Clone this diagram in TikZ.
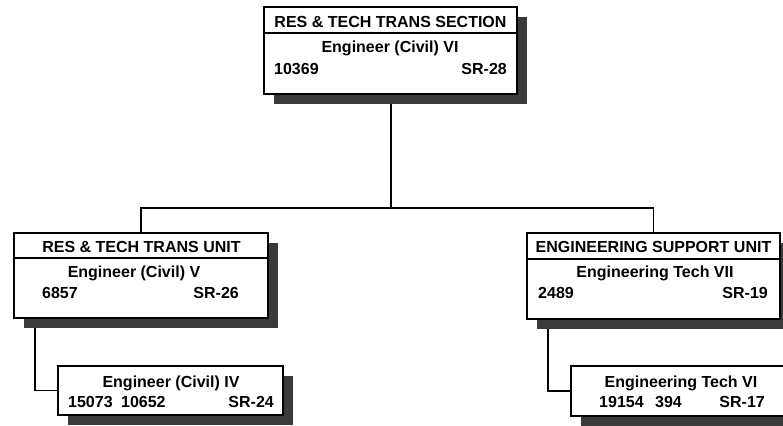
\documentclass[tikz,border=0pt]{standalone}
\usepackage{fontspec}
\setmainfont{Liberation Sans}
\usetikzlibrary{shadows,backgrounds}
\definecolor{shadowgray}{HTML}{3A3A3A}
\tikzset{
  orgbox/.style={draw=black, fill=white, line width=1.3pt, rectangle, inner sep=0pt,
    drop shadow={shadow xshift=10pt, shadow yshift=-10pt, fill=shadowgray, opacity=1}},
  conn/.style={draw=black, line width=1.8pt},
  sepline/.style={draw=black, line width=1.1pt},
  lbl/.style={inner sep=0pt, font=\fontsize{16}{19}\selectfont\bfseries},
}
\begin{document}
\begin{tikzpicture}[x=1pt,y=-1pt]
\useasboundingbox (0,0) rectangle (783,425);
\clip (0,0) rectangle (783,425);
% boxes
\node[orgbox, minimum width=253pt, minimum height=87pt] (top) at (390.5,50.5) {};
\node[orgbox, minimum width=254pt, minimum height=85pt] (left) at (141,275.5) {};
\node[orgbox, minimum width=253pt, minimum height=86pt] (right) at (653.5,276) {};
\node[orgbox, minimum width=225pt, minimum height=49pt] (lsub) at (170.5,390.5) {};
\node[orgbox, minimum width=225pt, minimum height=50pt] (rsub) at (683.5,391) {};
% connector helper coordinates
\coordinate (hub) at (391,208);
\coordinate (lc) at (35,318);
\coordinate (rc) at (548,319);
% connectors behind boxes
\begin{scope}[on background layer]
\fill[white] (0,0) rectangle (783,425);
\draw[conn] (top.south -| hub) -- (hub);
\draw[conn] (left.north) |- (hub) -| (right.north);
\draw[conn] (lc) |- (lsub.west);
\draw[conn] (rc) |- (rsub.west);
\end{scope}
% separators
\draw[sepline] (top.west |- 0,33) -- (top.east |- 0,33);
\draw[sepline] (left.west |- 0,258) -- (left.east |- 0,258);
\draw[sepline] (right.west |- 0,259) -- (right.east |- 0,259);
% texts: top
\node[lbl, anchor=base] (t1) at (390.5,28) {RES \& TECH TRANS SECTION};
\node[lbl, anchor=base] (t2) at (390,53) {Engineer (Civil) VI};
\node[lbl, anchor=base west] (t3) at (274,75) {10369};
\node[lbl, anchor=base east] (t4) at (507,75) {SR-28};
% left
\node[lbl, anchor=base] (l1) at (141.5,252) {RES \& TECH TRANS UNIT};
\node[lbl, anchor=base] (l2) at (134,277) {Engineer (Civil) V};
\node[lbl, anchor=base west] (l3) at (42,298) {6857};
\node[lbl, anchor=base east] (l4) at (239,298) {SR-26};
% right
\node[lbl, anchor=base] (r1) at (653.5,252) {ENGINEERING SUPPORT UNIT};
\node[lbl, anchor=base] (r2) at (655,277) {Engineering Tech VII};
\node[lbl, anchor=base west] (r3) at (538,298) {2489};
\node[lbl, anchor=base east] (r4) at (768,298) {SR-19};
% left sub
\node[lbl, anchor=base] (ls1) at (171,387) {Engineer (Civil) IV};
\node[lbl, anchor=base west] (ls2) at (68,407) {15073\hspace{4pt} 10652};
\node[lbl, anchor=base east] (ls3) at (274,407) {SR-24};
% right sub
\node[lbl, anchor=base] (rs1) at (681,387) {Engineering Tech VI};
\node[lbl, anchor=base west] (rs2) at (599,407) {19154\hspace{7pt} 394};
\node[lbl, anchor=base east] (rs3) at (765,407) {SR-17};
\end{tikzpicture}
\end{document}
